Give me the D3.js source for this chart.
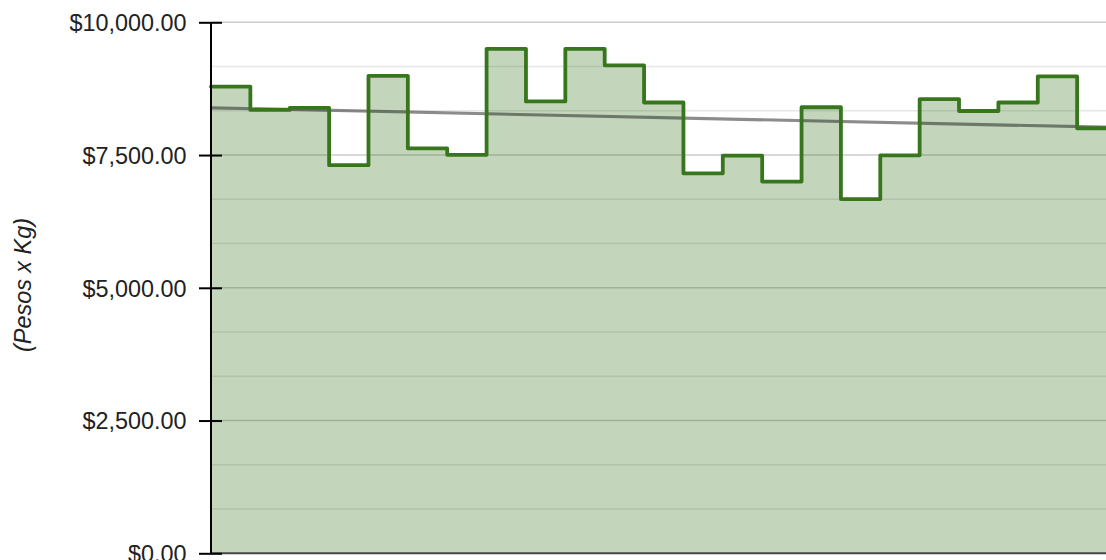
<!DOCTYPE html>
<html>
<head>
<meta charset="utf-8">
<script src="https://cdn.jsdelivr.net/npm/d3@7"></script>
<style>
  html, body { margin: 0; padding: 0; background: #fff; overflow: hidden; }
  svg { display: block; }
  text { font-family: "Liberation Sans", Arial, sans-serif; }
</style>
</head>
<body>
<svg id="chart" width="1106" height="560"></svg>
<script>
// ---- data ----
const categories = ["1","2","3","4","5","6","7","8","9","10","11","12","13","14","15","16","17","18","19","20","21","22","23"];
const prices = [8790, 8350, 8390, 7310, 8990, 7625, 7505, 9500, 8510, 9500, 9190, 8490, 7155, 7490, 7000, 8400, 6670, 7495, 8555, 8330, 8490, 8980, 8005];
const majorTicks = [0, 2500, 5000, 7500, 10000];
const yTitle = "(Pesos x Kg)";
const seriesColor = "#38761d";

// ---- layout ----
const svg = d3.select("#chart");
const pLeft = 211, pRight = 1116.5, pTop = 22.3, pBottom = 553.3;

const x = d3.scaleBand().domain(categories).range([pLeft, pRight]).padding(0);
const y = d3.scaleLinear().domain([0, 10000]).range([pBottom, pTop]);

// minor gridlines (2 between majors)
const minorTicks = [];
for (let i = 0; i < majorTicks.length - 1; i++) {
  const a = majorTicks[i], b = majorTicks[i + 1];
  for (let k = 1; k <= 2; k++) minorTicks.push(a + (b - a) * k / 3);
}

const grid = svg.append("g");
grid.selectAll("line.minor").data(minorTicks).join("line")
  .attr("x1", pLeft).attr("x2", 1106)
  .attr("y1", d => y(d)).attr("y2", d => y(d))
  .attr("stroke", "#e6e6e6").attr("stroke-width", 1.4);
grid.selectAll("line.major").data(majorTicks.filter(d => d > 0)).join("line")
  .attr("x1", pLeft).attr("x2", 1106)
  .attr("y1", d => y(d)).attr("y2", d => y(d))
  .attr("stroke", "#cccccc").attr("stroke-width", 1.4);

// step points
const pts = prices.map((v, i) => [x(categories[i]), y(v)]);
pts.push([x(categories[categories.length - 1]) + x.bandwidth(), y(prices[prices.length - 1])]);

const area = d3.area().curve(d3.curveStepAfter)
  .x(d => d[0]).y0(y(0)).y1(d => d[1]);
svg.append("path").datum(pts)
  .attr("d", area)
  .attr("fill", seriesColor).attr("fill-opacity", 0.3);

// trend line (linear regression on band centres)
const xs = prices.map((_, i) => i);
const mx = d3.mean(xs), my = d3.mean(prices);
const slope = d3.sum(xs, (xi, i) => (xi - mx) * (prices[i] - my)) / d3.sum(xs, xi => (xi - mx) ** 2);
const icpt = my - slope * mx;
const idx = px => (px - pLeft) / x.bandwidth() - 0.5;
svg.append("line")
  .attr("x1", pLeft).attr("y1", y(icpt + slope * idx(pLeft)))
  .attr("x2", pRight).attr("y2", y(icpt + slope * idx(pRight)))
  .attr("stroke", "#1a1a1a").attr("stroke-opacity", 0.5).attr("stroke-width", 3.2);

// step line
const line = d3.line().curve(d3.curveStepAfter).x(d => d[0]).y(d => d[1]);
svg.append("path").datum(pts)
  .attr("d", line)
  .attr("fill", "none").attr("stroke", seriesColor)
  .attr("stroke-width", 3.8).attr("stroke-linejoin", "round").attr("stroke-linecap", "round");

// baseline
svg.append("line")
  .attr("x1", pLeft).attr("x2", 1106).attr("y1", y(0)).attr("y2", y(0))
  .attr("stroke", "#444").attr("stroke-width", 2);

// y axis
const fmt = d3.format(",.2f");
const yAxis = d3.axisLeft(y).tickValues(majorTicks).tickSize(0).tickPadding(0)
  .tickFormat(d => "$" + fmt(d));
const ga = svg.append("g").attr("transform", `translate(${pLeft},0)`).call(yAxis);
ga.select(".domain").remove();
ga.selectAll(".tick text")
  .attr("x", -24.5).attr("dy", "0.35em")
  .attr("font-size", 23.4).attr("fill", "#222")
  .style("font-family", '"Liberation Sans", Arial, sans-serif');
ga.selectAll(".tick").append("line")
  .attr("x1", -12).attr("x2", 11).attr("stroke", "#000").attr("stroke-width", 2);
ga.append("line").attr("y1", pTop).attr("y2", pBottom + 1)
  .attr("stroke", "#000").attr("stroke-width", 2);

// y title
svg.append("text")
  .attr("transform", `translate(31,285) rotate(-90)`)
  .attr("text-anchor", "middle")
  .attr("font-size", 23.4).attr("font-style", "italic").attr("fill", "#222")
  .text(yTitle);
</script>
</body>
</html>
